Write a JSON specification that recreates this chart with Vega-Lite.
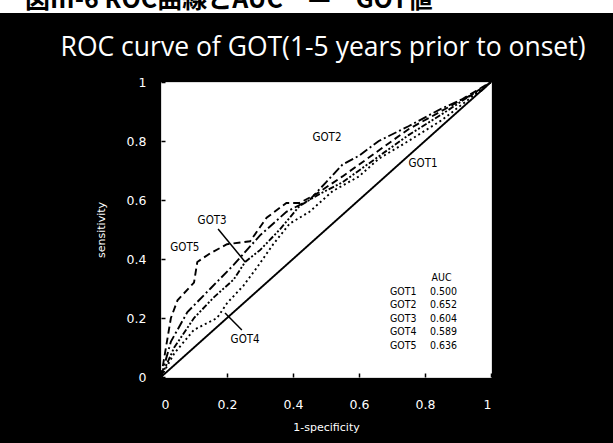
{
  "$schema": "https://vega.github.io/schema/vega-lite/v6.json",
  "autosize": {"type": "none"},
  "width": 330,
  "height": 295,
  "padding": {"left": 161, "top": 82, "right": 122, "bottom": 66},
  "background": "black",
  "config": {
    "view": {"fill": "white", "stroke": "#dddddd"},
    "axis": {
      "domain": false,
      "grid": false,
      "labelColor": "white",
      "titleColor": "white",
      "labelFont": "DejaVu Sans",
      "titleFont": "DejaVu Sans",
      "labelFontSize": 12.5,
      "titleFontSize": 11,
      "titleFontWeight": "normal",
      "tickColor": "black",
      "tickSize": -4,
      "tickWidth": 1.5
    }
  },
  "datasets": {
    "curves": [
      {"series": "GOT1", "fpr": 0, "tpr": 0},
      {"series": "GOT1", "fpr": 1, "tpr": 1},
      {"series": "GOT2", "fpr": 0, "tpr": 0},
      {"series": "GOT2", "fpr": 0.03, "tpr": 0.12},
      {"series": "GOT2", "fpr": 0.08, "tpr": 0.22},
      {"series": "GOT2", "fpr": 0.15, "tpr": 0.3},
      {"series": "GOT2", "fpr": 0.22, "tpr": 0.38},
      {"series": "GOT2", "fpr": 0.3, "tpr": 0.48},
      {"series": "GOT2", "fpr": 0.38, "tpr": 0.56},
      {"series": "GOT2", "fpr": 0.45, "tpr": 0.6},
      {"series": "GOT2", "fpr": 0.5, "tpr": 0.66},
      {"series": "GOT2", "fpr": 0.55, "tpr": 0.72},
      {"series": "GOT2", "fpr": 0.6, "tpr": 0.75},
      {"series": "GOT2", "fpr": 0.66, "tpr": 0.8},
      {"series": "GOT2", "fpr": 0.75, "tpr": 0.85},
      {"series": "GOT2", "fpr": 0.85, "tpr": 0.91},
      {"series": "GOT2", "fpr": 0.91, "tpr": 0.94},
      {"series": "GOT2", "fpr": 0.97, "tpr": 0.97},
      {"series": "GOT2", "fpr": 1, "tpr": 1},
      {"series": "GOT3", "fpr": 0, "tpr": 0},
      {"series": "GOT3", "fpr": 0.04, "tpr": 0.1},
      {"series": "GOT3", "fpr": 0.1, "tpr": 0.2},
      {"series": "GOT3", "fpr": 0.16, "tpr": 0.27},
      {"series": "GOT3", "fpr": 0.22, "tpr": 0.33},
      {"series": "GOT3", "fpr": 0.255, "tpr": 0.39},
      {"series": "GOT3", "fpr": 0.3, "tpr": 0.43},
      {"series": "GOT3", "fpr": 0.36, "tpr": 0.5},
      {"series": "GOT3", "fpr": 0.42, "tpr": 0.58},
      {"series": "GOT3", "fpr": 0.48, "tpr": 0.62},
      {"series": "GOT3", "fpr": 0.55, "tpr": 0.66},
      {"series": "GOT3", "fpr": 0.65, "tpr": 0.74},
      {"series": "GOT3", "fpr": 0.75, "tpr": 0.82},
      {"series": "GOT3", "fpr": 0.85, "tpr": 0.89},
      {"series": "GOT3", "fpr": 1, "tpr": 1},
      {"series": "GOT4", "fpr": 0, "tpr": 0},
      {"series": "GOT4", "fpr": 0.04, "tpr": 0.08},
      {"series": "GOT4", "fpr": 0.1, "tpr": 0.16},
      {"series": "GOT4", "fpr": 0.17, "tpr": 0.2},
      {"series": "GOT4", "fpr": 0.2, "tpr": 0.25},
      {"series": "GOT4", "fpr": 0.25, "tpr": 0.31},
      {"series": "GOT4", "fpr": 0.29, "tpr": 0.37},
      {"series": "GOT4", "fpr": 0.34, "tpr": 0.45},
      {"series": "GOT4", "fpr": 0.39, "tpr": 0.52},
      {"series": "GOT4", "fpr": 0.45, "tpr": 0.56},
      {"series": "GOT4", "fpr": 0.52, "tpr": 0.63},
      {"series": "GOT4", "fpr": 0.6, "tpr": 0.68},
      {"series": "GOT4", "fpr": 0.66, "tpr": 0.74},
      {"series": "GOT4", "fpr": 0.75, "tpr": 0.8},
      {"series": "GOT4", "fpr": 0.85, "tpr": 0.87},
      {"series": "GOT4", "fpr": 1, "tpr": 1},
      {"series": "GOT5", "fpr": 0, "tpr": 0},
      {"series": "GOT5", "fpr": 0.03, "tpr": 0.2},
      {"series": "GOT5", "fpr": 0.05, "tpr": 0.26},
      {"series": "GOT5", "fpr": 0.1, "tpr": 0.32},
      {"series": "GOT5", "fpr": 0.11, "tpr": 0.39},
      {"series": "GOT5", "fpr": 0.15, "tpr": 0.42},
      {"series": "GOT5", "fpr": 0.2, "tpr": 0.45},
      {"series": "GOT5", "fpr": 0.27, "tpr": 0.46},
      {"series": "GOT5", "fpr": 0.32, "tpr": 0.54},
      {"series": "GOT5", "fpr": 0.38, "tpr": 0.59},
      {"series": "GOT5", "fpr": 0.42, "tpr": 0.59},
      {"series": "GOT5", "fpr": 0.47, "tpr": 0.62},
      {"series": "GOT5", "fpr": 0.55, "tpr": 0.68},
      {"series": "GOT5", "fpr": 0.65, "tpr": 0.76},
      {"series": "GOT5", "fpr": 0.75, "tpr": 0.84},
      {"series": "GOT5", "fpr": 0.88, "tpr": 0.92},
      {"series": "GOT5", "fpr": 1, "tpr": 1}
    ],
    "labels": [
      {"label": "GOT1", "lx": 0.794, "ly": 0.722},
      {"label": "GOT2", "lx": 0.503, "ly": 0.81},
      {"label": "GOT3", "lx": 0.155, "ly": 0.529},
      {"label": "GOT5", "lx": 0.072, "ly": 0.437},
      {"label": "GOT4", "lx": 0.255, "ly": 0.125}
    ],
    "leaders": [
      {"series": "GOT3", "x1": 0.173, "y1": 0.502, "x2": 0.255, "y2": 0.39},
      {"series": "GOT4", "x1": 0.194, "y1": 0.217, "x2": 0.245, "y2": 0.159}
    ],
    "auc": [
      {"series": "GOT1", "auc": "0.500", "ty": 0.288},
      {"series": "GOT2", "auc": "0.652", "ty": 0.244},
      {"series": "GOT3", "auc": "0.604", "ty": 0.197},
      {"series": "GOT4", "auc": "0.589", "ty": 0.153},
      {"series": "GOT5", "auc": "0.636", "ty": 0.105}
    ],
    "header": [
      {"text": "図III-6 ROC曲線とAUC　—　GOT値"}
    ],
    "title": [
      {"text": "ROC curve of GOT(1-5 years prior to onset)"}
    ]
  },
  "layer": [
    {
      "data": {"name": "header"},
      "mark": {"type": "rect", "fill": "white", "stroke": null},
      "encoding": {
        "x": {"datum": -0.49, "type": "quantitative"},
        "x2": {"datum": 1.38},
        "y": {"datum": 1.29, "type": "quantitative"},
        "y2": {"datum": 1.234}
      }
    },
    {
      "data": {"name": "header"},
      "mark": {"type": "text", "align": "left", "baseline": "alphabetic", "font": "Noto Sans CJK JP", "fontSize": 25, "fontWeight": "bold", "color": "black"},
      "encoding": {
        "x": {"datum": -0.412, "type": "quantitative"},
        "y": {"datum": 1.25, "type": "quantitative"},
        "text": {"field": "text"}
      }
    },
    {
      "data": {"name": "title"},
      "mark": {"type": "text", "align": "center", "baseline": "alphabetic", "font": "Open Sans", "fontSize": 26.5, "color": "white"},
      "encoding": {
        "x": {"datum": 0.491, "type": "quantitative"},
        "y": {"datum": 1.087, "type": "quantitative"},
        "text": {"field": "text"}
      }
    },
    {
      "data": {"name": "curves"},
      "mark": {"type": "line", "color": "black", "strokeWidth": 1.9},
      "encoding": {
        "x": {
          "field": "fpr", "type": "quantitative",
          "scale": {"domain": [0, 1], "nice": false},
          "axis": {"title": "1-specificity", "values": [0, 0.2, 0.4, 0.6, 0.8, 1], "format": "~g", "labelPadding": 25, "titlePadding": 11}
        },
        "y": {
          "field": "tpr", "type": "quantitative",
          "scale": {"domain": [0, 1], "nice": false},
          "axis": {"title": "sensitivity", "values": [0, 0.2, 0.4, 0.6, 0.8, 1], "format": "~g", "labelPadding": 19, "titlePadding": 20}
        },
        "strokeDash": {
          "field": "series", "type": "nominal",
          "scale": {"domain": ["GOT1", "GOT2", "GOT3", "GOT4", "GOT5"], "range": [[1, 0], [9, 3, 2, 3], [6, 2, 2, 2, 2, 2], [2, 3], [7, 4]]},
          "legend": null
        }
      }
    },
    {
      "data": {"name": "leaders"},
      "mark": {"type": "rule", "color": "black", "strokeWidth": 1.5},
      "encoding": {
        "x": {"field": "x1", "type": "quantitative"},
        "y": {"field": "y1", "type": "quantitative"},
        "x2": {"field": "x2"},
        "y2": {"field": "y2"}
      }
    },
    {
      "data": {"name": "labels"},
      "mark": {"type": "text", "font": "DejaVu Sans Condensed", "fontSize": 11.5, "color": "black"},
      "encoding": {
        "x": {"field": "lx", "type": "quantitative"},
        "y": {"field": "ly", "type": "quantitative"},
        "text": {"field": "label"}
      }
    },
    {
      "data": {"values": [{"h": "AUC"}]},
      "mark": {"type": "text", "align": "left", "font": "DejaVu Sans Condensed", "fontSize": 10.5, "color": "black"},
      "encoding": {
        "x": {"datum": 0.82, "type": "quantitative"},
        "y": {"datum": 0.336, "type": "quantitative"},
        "text": {"field": "h"}
      }
    },
    {
      "data": {"name": "auc"},
      "mark": {"type": "text", "align": "left", "font": "DejaVu Sans Condensed", "fontSize": 10.5, "color": "black"},
      "encoding": {
        "x": {"datum": 0.694, "type": "quantitative"},
        "y": {"field": "ty", "type": "quantitative"},
        "text": {"field": "series"}
      }
    },
    {
      "data": {"name": "auc"},
      "mark": {"type": "text", "align": "left", "font": "DejaVu Sans Condensed", "fontSize": 10.5, "color": "black"},
      "encoding": {
        "x": {"datum": 0.815, "type": "quantitative"},
        "y": {"field": "ty", "type": "quantitative"},
        "text": {"field": "auc"}
      }
    }
  ]
}
